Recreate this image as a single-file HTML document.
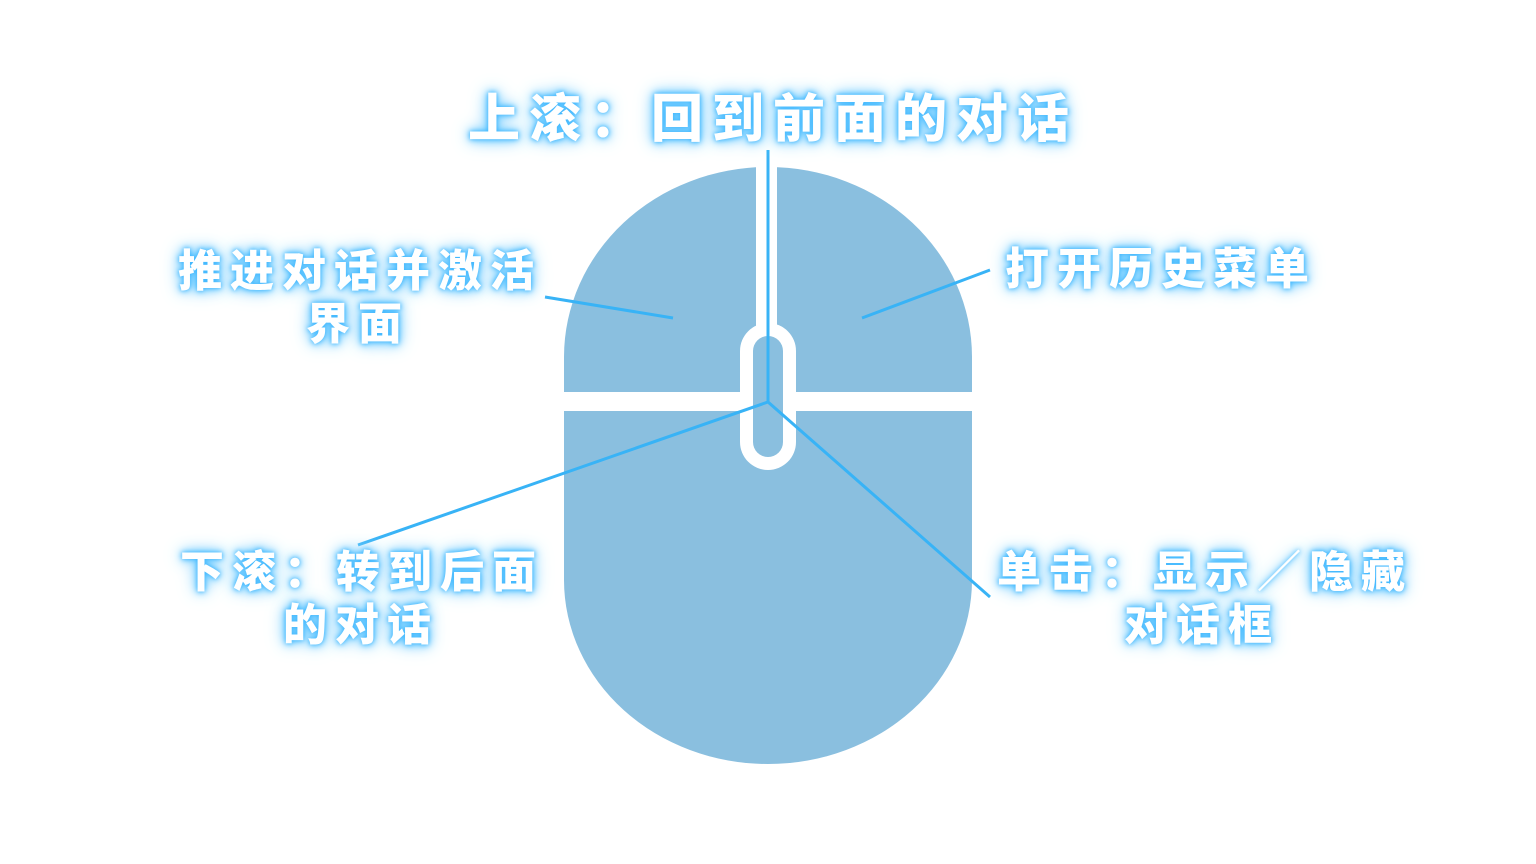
<!DOCTYPE html>
<html><head><meta charset="utf-8"><style>
html,body{margin:0;padding:0;background:#fff;}
body{width:1536px;height:864px;position:relative;overflow:hidden;}
.t{position:absolute;white-space:nowrap;color:#fff;font-family:"Liberation Sans","Noto Sans CJK SC",sans-serif;font-weight:900;
text-shadow:0 0 4px #3fb6ff,0 0 8px #4cc0ff,0 0 14px #7ccfff,0 0 20px #a8deff;line-height:1;}
.s{font-size:44px;letter-spacing:8px;}
.b{font-size:52px;letter-spacing:9px;}
</style></head><body>
<svg width="1536" height="864" style="position:absolute;left:0;top:0">
<path d="M564,357 A204,190 0 0 1 768,167 A204,190 0 0 1 972,357 L972,580 A204,184 0 0 1 768,764 A204,184 0 0 1 564,580 Z" fill="#8abfdf"/>
<rect x="756" y="160" width="21" height="170" fill="#fff"/>
<rect x="560" y="392" width="420" height="19" fill="#fff"/>
<rect x="740" y="323" width="56" height="147" rx="28" fill="#fff"/>
<rect x="753" y="336" width="30" height="121" rx="15" fill="#8abfdf"/>
<g stroke="#38b3f6" stroke-width="3" fill="none">
<line x1="768" y1="150" x2="768" y2="402"/>
<line x1="545" y1="297" x2="673" y2="318"/>
<line x1="862" y1="318" x2="990" y2="270"/>
<polyline points="358,545 768,402 990,597"/>
</g>
</svg>
<div class="t b" style="left:468px;top:94px">上滚：回到前面的对话</div>
<div class="t s" style="left:178px;top:250px">推进对话并激活</div>
<div class="t s" style="left:306px;top:303px">界面</div>
<div class="t s" style="left:1005px;top:248px">打开历史菜单</div>
<div class="t s" style="left:180px;top:551px">下滚：转到后面</div>
<div class="t s" style="left:283px;top:604px">的对话</div>
<div class="t s" style="left:997px;top:551px">单击：显示／隐藏</div>
<div class="t s" style="left:1124px;top:604px">对话框</div>
</body></html>
